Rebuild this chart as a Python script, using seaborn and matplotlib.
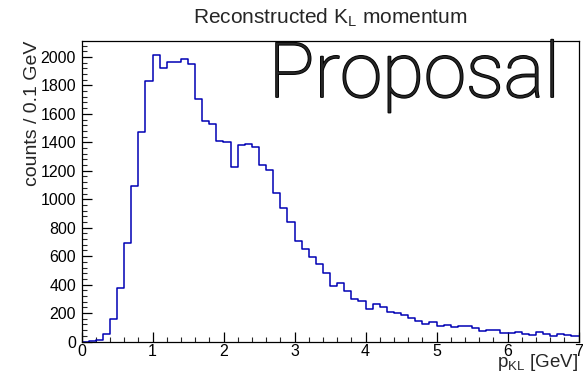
import numpy as np
import pandas as pd
import matplotlib
matplotlib.use('Agg')
import matplotlib.pyplot as plt
import matplotlib.patheffects as pe
from matplotlib.ticker import MultipleLocator
import seaborn as sns

sns.set_style('ticks')
plt.rcParams['font.family'] = ['Liberation Sans', 'DejaVu Sans']
plt.rcParams['mathtext.fontset'] = 'custom'
plt.rcParams['mathtext.rm'] = 'Liberation Sans'

# reconstructed K_L momentum, 70 bins of 0.1 GeV from 0 to 7 GeV
bin_edges = np.linspace(0.0, 7.0, 71)
counts = [0, 3, 10, 50, 160, 378, 692, 1095, 1473, 1831,
          2012, 1925, 1967, 1967, 1989, 1949, 1702, 1552, 1531, 1407,
          1402, 1229, 1380, 1390, 1368, 1239, 1204, 1041, 935, 841,
          706, 647, 596, 542, 479, 390, 409, 357, 298, 287,
          228, 261, 240, 210, 200, 183, 165, 141, 124, 139,
          110, 117, 103, 110, 110, 95, 76, 81, 82, 59,
          63, 67, 50, 46, 64, 56, 40, 54, 44, 37]

df = pd.DataFrame({'p': bin_edges[:-1] + 0.05, 'n': counts})

W, H = 583, 378
fig = plt.figure(figsize=(W / 100, H / 100), dpi=100)
ax = fig.add_axes([81.5 / W, 1 - 341.5 / H, 497 / W, 300.5 / H])

sns.histplot(data=df, x='p', weights='n', bins=list(bin_edges), element='step',
             fill=False, color='#0000b4', linewidth=1.1, ax=ax)

ax.set_xlim(0, 7)
ax.set_ylim(0, 2112)
ax.xaxis.set_major_locator(MultipleLocator(1))
ax.xaxis.set_minor_locator(MultipleLocator(0.2))
ax.yaxis.set_major_locator(MultipleLocator(200))
ax.yaxis.set_minor_locator(MultipleLocator(40))
ax.tick_params(which='major', direction='in', length=7, width=0.9,
               labelsize=11.5, top=False, right=False, colors='black')
ax.tick_params(which='minor', direction='in', length=3.5, width=0.8,
               top=False, right=False)
ax.tick_params(axis='y', pad=4)
ax.tick_params(axis='x', pad=2)
for s in ax.spines.values():
    s.set_linewidth(0.9)
    s.set_color('black')
ax.set_xlabel('')
ax.set_ylabel('')

fig.text(330 / W, 1 - 18 / H, 'Reconstructed K$_{\\mathregular{L}}$ momentum',
         ha='center', va='center', fontsize=15)
fig.text(33 / W, 1 - 41 / H, 'counts / 0.1 GeV', rotation=90,
         ha='center', va='top', fontsize=14)
fig.text(578 / W, 1 - 367 / H, 'p$_{\\mathregular{KL}}$ [GeV]',
         ha='right', va='baseline', fontsize=13.5)
fig.text(560 / W, 1 - 97 / H, 'Proposal', ha='right', va='baseline',
         fontsize=55, family='Roboto', fontweight='light',
         path_effects=[pe.withStroke(linewidth=1.3, foreground='black')])

fig.savefig('out.png', dpi=100)
